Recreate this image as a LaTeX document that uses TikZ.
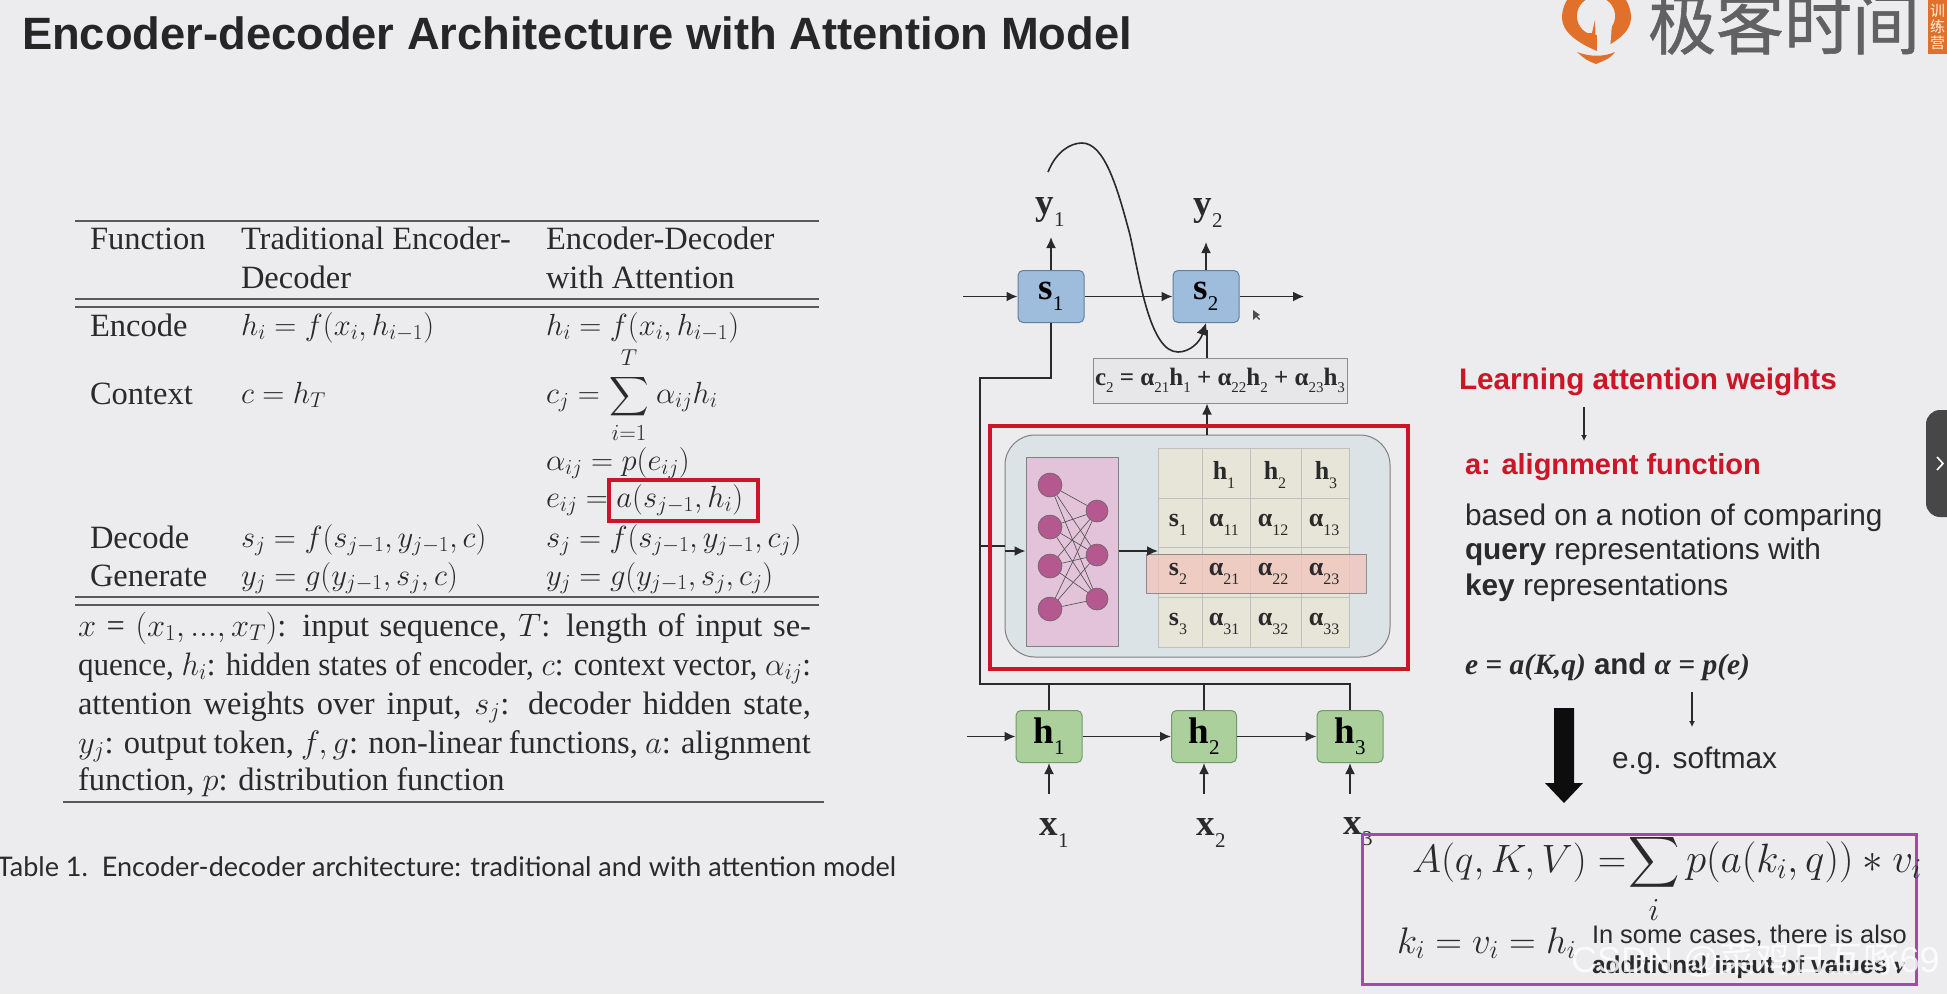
\documentclass[tikz,border=0pt]{standalone}
\usepackage{fix-cm}
\usepackage{amsmath,graphicx}
\usepackage{fontspec}
\setmainfont{Liberation Serif}
\newfontfamily\sansf{Liberation Sans}
\newfontfamily\capf{Lato}
\newfontfamily\cjkr{Noto Sans CJK SC}
\newfontfamily\cjkm[FakeBold=0.8]{Noto Sans CJK SC}
\usetikzlibrary{arrows.meta,positioning,calc}
\definecolor{bgc}{HTML}{ECEBEE}
\definecolor{redc}{HTML}{CC1526}
\definecolor{magc}{HTML}{A648A6}
\definecolor{inkc}{HTML}{2A2A2C}
\definecolor{bbl}{HTML}{9EBDDC}
\definecolor{bbd}{HTML}{5F7F9F}
\definecolor{ggr}{HTML}{ACD09B}
\definecolor{gbd}{HTML}{6F9A6D}
\definecolor{neu}{HTML}{B4588F}
\definecolor{cel}{HTML}{E6E5D7}
\definecolor{attc}{HTML}{DCE3E7}
\definecolor{purc}{HTML}{E2C3D9}
\definecolor{hic}{HTML}{F2C4BC}
\definecolor{orgc}{HTML}{E0702A}
\newcommand{\fs}[1]{\fontsize{#1}{#1}\selectfont}
\newcommand{\blab}[3]{{\fs{#1}\bfseries #2\raisebox{-.3em}{\fs{\the\numexpr#1*58/100\relax}\mdseries #3}}}
\newcommand{\csub}[1]{\raisebox{-.3em}{\fs{15}\mdseries #1}}
\tikzset{
  x=1pt,y=-1pt,
  txt/.style={inner sep=0pt,outer sep=0pt,anchor=base west,text=inkc},
  tb/.style={txt,font=\fs{32.5}},
  tbm/.style={txt,font=\fs{30.6}},
  arr/.style={draw=inkc,line width=1.8pt,-{Latex[length=11pt,width=10pt]}},
  thinarr/.style={draw=inkc,line width=1.2pt,-{Latex[length=6pt,width=6pt]}},
  wire/.style={draw=inkc,line width=1.8pt},
  rulec/.style={draw=black!65,line width=1.6pt},
  bluebox/.style={draw=bbd,fill=bbl,rounded corners=5pt,line width=1pt,minimum width=66pt,minimum height=52pt,inner sep=0pt},
  greenbox/.style={draw=gbd,fill=ggr,rounded corners=5pt,line width=1pt,minimum width=66pt,minimum height=52pt,inner sep=0pt},
  neuron/.style={circle,draw=black!60,fill=neu,line width=.6pt,inner sep=0pt},
  cell/.style={draw=black!25,fill=cel,line width=.7pt},
  rd/.style={txt,font=\sansf\bfseries\fs{29},text=redc},
  bd/.style={txt,font=\sansf\fs{29.8}},
}
\begin{document}
\begin{tikzpicture}
\useasboundingbox (0,0) rectangle (1947,994);
\clip (0,0) rectangle (1947,994);
\fill[bgc] (0,0) rectangle (1947,994);

% title
\node[txt,font=\sansf\bfseries\fs{45.3},text=black!85] (title) at (22,49) {Encoder-decoder Architecture with Attention Model};

% logo
\fill[orgc] (1562,18) arc[start angle=180,end angle=360,radius=34.5] .. controls (1631,32) and (1615,43) .. (1597,51) .. controls (1578,43) and (1562,32) .. (1562,18) -- cycle;
\fill[bgc] (1596,16) circle[radius=19];
\fill[orgc] (1595,20) -- (1596,50) -- (1582,33) -- (1592,33) -- cycle;
\fill[bgc] (1597,24) -- (1612,24) -- (1610,49) -- (1597,52) -- cycle;
\fill[orgc] (1577,52) .. controls (1590,57) and (1604,57) .. (1615,52) .. controls (1610,58) .. (1596,64) .. controls (1586,60) .. (1577,52) -- cycle;
\node[txt,font=\cjkm\fs{68},text=black!62] (logotxt) at (1648,49) {极客时间};
\fill[orgc] (1928,0) rectangle (1947,54);
\node[inner sep=0pt,font=\cjkr\fs{15},text=white!90!orange,align=center] (logosub) at (1937.5,27) {训\\[1pt]练\\[1pt]营};

% table rules
\draw[rulec] (75,221) -- (819,221);
\draw[rulec] (75,299) -- (819,299);
\draw[rulec] (75,307) -- (819,307);
\draw[rulec] (75,597) -- (819,597);
\draw[rulec] (75,605) -- (819,605);
\draw[rulec] (63,802) -- (824,802);

% table head
\node[tb] (h1) at (90,249) {Function};
\node[tb] (h2a) at (241,249) {Traditional Encoder-};
\node[tb] (h2b) at (241,288) {Decoder};
\node[tb] (h3a) at (546,249) {Encoder-Decoder};
\node[tb] (h3b) at (546,288) {with Attention};
% rows
\node[tb] (r1a) at (90,336) {Encode};
\node[tbm] (r1b) at (241,335) {$h_i = f(x_i, h_{i-1})$};
\node[tbm] (r1c) at (546,335) {$h_i = f(x_i, h_{i-1})$};
\node[tb] (r2a) at (90,404) {Context};
\node[tbm] (r2b) at (241,403) {$c = h_T$};
\node[tbm] (r2c) at (546,403) {$c_j =$};
\node[txt,anchor=center,font=\fs{28.5}] (r2s) at (629,397) {\scalebox{1.1}{$\displaystyle\sum$}};
\node[txt,anchor=center,font=\fs{23}] (r2t) at (629,358) {$T$};
\node[txt,anchor=center,font=\fs{23}] (r2i) at (629,433) {$i{=}1$};
\node[tbm] (r2d) at (656,403) {$\alpha_{ij}h_i$};
\node[tbm] (r3c) at (546,470) {$\alpha_{ij} = p(e_{ij})$};
\node[tbm] (r4c) at (546,507) {$e_{ij} = a(s_{j-1},h_i)$};
\node[tb] (r5a) at (90,548) {Decode};
\node[tbm] (r5b) at (241,547) {$s_j = f(s_{j-1},y_{j-1},c)$};
\node[tbm] (r5c) at (546,547) {$s_j = f(s_{j-1},y_{j-1},c_j)$};
\node[tb] (r6a) at (90,586) {Generate};
\node[tbm] (r6b) at (241,585) {$y_j = g(y_{j-1},s_j,c)$};
\node[tbm] (r6c) at (546,585) {$y_j = g(y_{j-1},s_j,c_j)$};
\draw[redc,line width=4pt] (609,480) rectangle (758,521);

% note
\node[tb] (n1) at (78,636) {\hbox to 733pt{$x$ = $(x_1,...,x_T)$: input sequence, $T$: length of input se-}};
\node[tb] (n2) at (78,675) {\resizebox{733pt}{\height}{quence, $h_i$: hidden states of encoder, $c$: context vector, $\alpha_{ij}$:}};
\node[tb] (n3) at (78,714) {\hbox to 733pt{attention weights over input, $s_j$: decoder hidden state,}};
\node[tb] (n4) at (78,753) {\hbox to 733pt{$y_j$: output token, $f,g$: non-linear functions, $a$: alignment}};
\node[tb] (n5) at (78,790) {function, $p$: distribution function};
\node[txt,font=\capf\fs{27}] (cap) at (-3,876) {Table 1.\ \ Encoder-decoder architecture: traditional and with attention model};

% decoder boxes
\node[bluebox] (s1) at (1051,296.5) {\blab{37}{s}{1}};
\node[bluebox] (s2) at (1206,296.5) {\blab{37}{s}{2}};
\node[txt,anchor=center] (y1) at (1050,212) {\blab{37}{y}{1}};
\node[txt,anchor=center] (y2) at (1208,213) {\blab{37}{y}{2}};
\coordinate (y1t) at (1051,237);
\coordinate (y2t) at (1206,242);
\coordinate (sin) at (963,296.5);
\coordinate (sout) at (1304,296.5);
\draw[arr] (s1.north) -- (y1t);
\draw[arr] (s2.north) -- (y2t);
\draw[arr] (sin) -- (s1.west);
\draw[arr] (s1.east) -- (s2.west);
\draw[arr] (s2.east) -- (sout);

% c2
\node[draw=black!45,fill=black!2!bgc,line width=1pt,minimum width=254pt,minimum height=45pt,inner sep=0pt,font=\bfseries\fs{25},text=inkc] (c2) at (1220,380.5) {c\csub{2} = α\csub{21}h\csub{1} + α\csub{22}h\csub{2} + α\csub{23}h\csub{3}};

% attention block
\node[draw=black!50,fill=attc,rounded corners=30pt,line width=1pt,minimum width=385pt,minimum height=222pt,inner sep=0pt] (att) at (1197.5,546) {};
\node[draw=black!50,fill=purc,line width=1pt,minimum width=92pt,minimum height=189pt,inner sep=0pt] (net) at (1072,551.5) {};
% neurons
\foreach \n/\yy in {a/485,b/527,c/566,d/609}{\node[neuron,minimum size=24pt] (l\n) at (1050,\yy) {};}
\foreach \n/\yy in {e/511,f/555,g/599}{\node[neuron,minimum size=22pt] (r\n) at (1097,\yy) {};}
\foreach \a in {a,b,c,d}{\foreach \b in {e,f,g}{\draw[black!70,line width=.6pt] (l\a) -- (r\b);}}
% grid
\foreach \xa/\xb in {1158/1202,1202/1250,1250/1301,1301/1349}{
  \foreach \ya/\yb in {448/498,498/547,547/597,597/647}{
    \draw[cell] (\xa,\ya) rectangle (\xb,\yb);
  }}
\fill[hic,opacity=.75,draw=black!55,line width=1pt] (1146,554) rectangle (1366,593);
\newcommand{\gridlab}[4]{\node[txt,anchor=center,font=\bfseries\fs{26},text=inkc] (#1) at (#2) {#3\raisebox{-.35em}{\fs{16}\mdseries #4}};}
\gridlab{g01}{1224,475}{h}{1}\gridlab{g02}{1275,475}{h}{2}\gridlab{g03}{1326,475}{h}{3}
\gridlab{g10}{1178,525}{s}{1}\gridlab{g11}{1224,525}{α}{11}\gridlab{g12}{1273,525}{α}{12}\gridlab{g13}{1324,525}{α}{13}
\gridlab{g20}{1178,574}{s}{2}\gridlab{g21}{1224,574}{α}{21}\gridlab{g22}{1273,574}{α}{22}\gridlab{g23}{1324,574}{α}{23}
\gridlab{g30}{1178,624}{s}{3}\gridlab{g31}{1224,624}{α}{31}\gridlab{g32}{1273,624}{α}{32}\gridlab{g33}{1324,624}{α}{33}
\coordinate (gridw) at (1158,551);

% encoder
\node[greenbox] (h1n) at (1049,736.5) {\blab{37}{h}{1}};
\node[greenbox,minimum width=65pt] (h2n) at (1204,736.5) {\blab{37}{h}{2}};
\node[greenbox] (h3n) at (1350,736.5) {\blab{37}{h}{3}};
\node[txt,anchor=center] (x1) at (1054,833) {\blab{37}{x}{1}};
\node[txt,anchor=center] (x2) at (1211,833) {\blab{37}{x}{2}};
\node[txt,anchor=center] (x3) at (1358,832) {\blab{37}{x}{3}};
\coordinate (hin) at (967,736.5);
\coordinate (x1b) at (1049,794);
\coordinate (x2b) at (1204,794);
\coordinate (x3b) at (1350,794);
\draw[arr] (hin) -- (h1n.west);
\draw[arr] (h1n.east) -- (h2n.west);
\draw[arr] (h2n.east) -- (h3n.west);
\draw[arr] (x1b) -- (h1n.south);
\draw[arr] (x2b) -- (h2n.south);
\draw[arr] (x3b) -- (h3n.south);

% bus
\coordinate (bl) at (980,684);
\coordinate (bm) at (980,546);
\coordinate (ba) at (1005,546);
\coordinate (bb) at (1005,551);
\draw[wire] (h1n.north) -- (1049,684);
\draw[wire] (h2n.north) -- (1204,684);
\draw[wire] (s1.south) -- (1051,378) -- (980,378) -- (bl) -| (h3n.north);
\draw[wire] (bm) -- (ba);
\draw[arr] (bb) -- (net.west |- bb);
\draw[arr] (net.east |- gridw) -- (gridw);
\coordinate (attout) at (1207,435);
\coordinate (c2out) at (1207,358);
\coordinate (c2in) at (1207,403.5);
\coordinate (s2in) at (1207,330);
\draw[arr] (attout) -- (c2in);
\draw[wire] (c2out) -- (s2in);
\coordinate (cs) at (1048,172);
\draw[draw=inkc,line width=1.6pt,-{Latex[length=12pt,width=12pt]}] (cs) .. controls (1056,152) and (1070,143) .. (1082,143) .. controls (1105,143) and (1118,190) .. (1130,235) .. controls (1140,280) and (1150,352) .. (1178,352) .. controls (1190,352) and (1200,342) .. (s2.south);
% red box
\draw[redc,line width=4pt] (990,426) rectangle (1408,669);

% cursor
\fill[black!70] (1253,310) -- (1253,320) -- (1256,317) -- (1259,320) -- (1260,319) -- (1257,316) -- (1260,315) -- cycle;

% right text
\node[rd,font=\sansf\bfseries\fs{29.7}] (la) at (1459,389) {Learning attention weights};
\node[rd] (lb) at (1465,474) {a: alignment function};
\coordinate (la1) at (1584,407); \coordinate (la2) at (1584,441);
\draw[thinarr] (la1) -- (la2);
\node[bd] (t1) at (1465,525) {based on a notion of comparing};
\node[bd] (t2) at (1465,559) {{\bfseries query} representations with};
\node[bd] (t3) at (1465,595) {{\bfseries key} representations};
\node[bd,font=\sansf\bfseries\fs{29.5}] (t4) at (1465,674) {{\rmfamily\itshape e = a(K,q)} and {\rmfamily\itshape α = p(e)}};
\coordinate (lc1) at (1692,692); \coordinate (lc2) at (1692,727);
\draw[thinarr] (lc1) -- (lc2);
\node[bd] (t5) at (1612,768) {e.g. softmax};
\fill[black!95] (1554,708) -- (1574,708) -- (1574,783) -- (1583,783) -- (1564,803) -- (1545,783) -- (1554,783) -- cycle;

% formula
\draw[magc,line width=3pt] (1362,834) rectangle (1916,984);
\node[txt,font=\fs{39.5}] (f1a) at (1412,872) {$A(q,K,V)=$};
\node[txt,anchor=center,font=\fs{39}] (f1s) at (1654,862) {\scalebox{1.43}{$\displaystyle\sum$}};
\node[txt,anchor=center,font=\fs{32}] (f1i) at (1654,910) {$i$};
\node[txt,font=\fs{41}] (f1b) at (1686,872) {$p(a(k_i,q))*v_i$};
\node[txt,font=\fs{37}] (f2) at (1397,953) {$k_i=v_i=h_i$};
\node[txt,font=\sansf\fs{25.4}] (f3) at (1592,943) {In some cases, there is also};
\node[txt,font=\sansf\bfseries\fs{24.5}] (f4) at (1592,973) {additional input of values {\rmfamily\itshape v}};
\node[txt,font=\sansf\fs{36},text=white,opacity=.8] (wm) at (1571,972) {CSDN @{\cjkr 菜鸡日互啄}69};

% side handle
\fill[black!72] (1960,410) -- (1940,410) arc[start angle=270,end angle=180,radius=14] -- (1926,503) arc[start angle=180,end angle=90,radius=14] -- (1960,517) -- cycle;
\draw[white,line width=1.6pt] (1937,457) -- (1943,463.5) -- (1937,470);
\end{tikzpicture}
\end{document}
